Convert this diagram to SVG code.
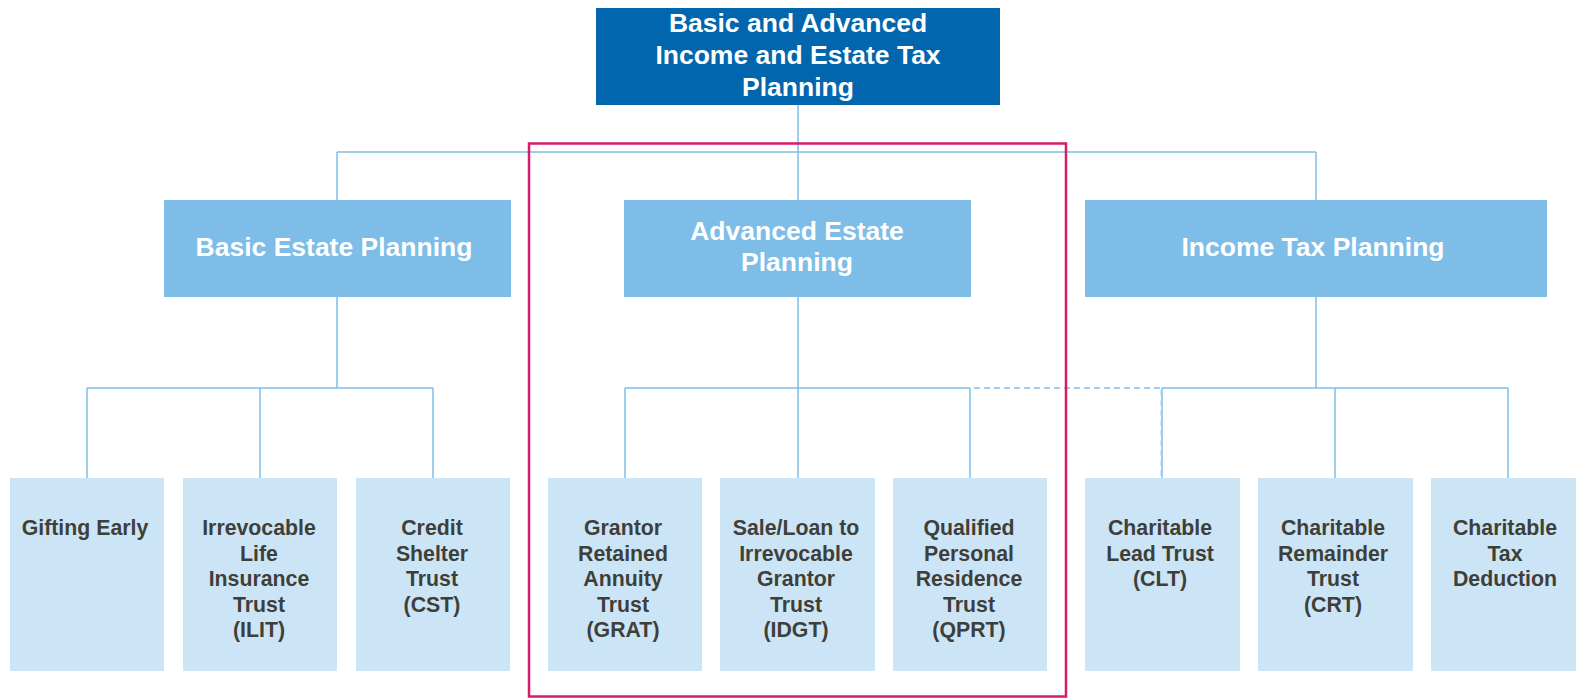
<svg xmlns="http://www.w3.org/2000/svg" width="1576" height="700" viewBox="0 0 1576 700">
<style>
.top{fill:#0166ad}
.mid{fill:#7dbde8}
.leaf{fill:#cce5f6}
.tw{font-family:"Liberation Sans",Arial,sans-serif;font-weight:bold;font-size:26.5px;fill:#ffffff;text-anchor:middle}
.tl{font-family:"Liberation Sans",Arial,sans-serif;font-weight:bold;font-size:21.3px;fill:#3f3f3a;text-anchor:middle}
.c{stroke:#7fbfe9;stroke-width:1.5;fill:none}
.d{stroke:#a3cdee;stroke-width:2;fill:none;stroke-dasharray:6 4}
</style>
<rect width="1576" height="700" fill="#ffffff"/>
<g id="connectors">
<path class="c" d="M798 105V478M337 152H1316M337 152V200M1316 152V200"/>
<path class="c" d="M337 297V388M87 388H433M87 388V478M260 388V478M433 388V478"/>
<path class="c" d="M625 388H970M625 388V478M970 388V478"/>
<path class="c" d="M1316 297V388M1162 388H1508M1162 388V478M1335 388V478M1508 388V478"/>
<path class="d" d="M804 388H1162M1161.5 390V478"/>
</g>
<g id="n-root"><rect class="top" x="596" y="8" width="404" height="97"/>
<text class="tw" x="798" y="32">Basic and Advanced</text>
<text class="tw" x="798" y="64">Income and Estate Tax</text>
<text class="tw" x="798" y="96">Planning</text></g>
<g id="n-basic"><rect class="mid" x="164" y="200" width="347" height="97"/>
<text class="tw" x="334" y="256">Basic Estate Planning</text></g>
<g id="n-advanced"><rect class="mid" x="624" y="200" width="347" height="97"/>
<text class="tw" x="797" y="239.5">Advanced Estate</text>
<text class="tw" x="797" y="271">Planning</text></g>
<g id="n-income"><rect class="mid" x="1085" y="200" width="462" height="97"/>
<text class="tw" x="1313" y="256">Income Tax Planning</text></g>
<g id="n-gift"><rect class="leaf" x="10" y="478" width="154" height="193"/>
<text class="tl" x="85" y="535">Gifting Early</text></g>
<g id="n-ilit"><rect class="leaf" x="183" y="478" width="154" height="193"/>
<text class="tl" x="259" y="535">Irrevocable</text>
<text class="tl" x="259" y="560.6">Life</text>
<text class="tl" x="259" y="586.2">Insurance</text>
<text class="tl" x="259" y="611.8">Trust</text>
<text class="tl" x="259" y="637.4">(ILIT)</text></g>
<g id="n-cst"><rect class="leaf" x="356" y="478" width="154" height="193"/>
<text class="tl" x="432" y="535">Credit</text>
<text class="tl" x="432" y="560.6">Shelter</text>
<text class="tl" x="432" y="586.2">Trust</text>
<text class="tl" x="432" y="611.8">(CST)</text></g>
<g id="n-grat"><rect class="leaf" x="548" y="478" width="154" height="193"/>
<text class="tl" x="623" y="535">Grantor</text>
<text class="tl" x="623" y="560.6">Retained</text>
<text class="tl" x="623" y="586.2">Annuity</text>
<text class="tl" x="623" y="611.8">Trust</text>
<text class="tl" x="623" y="637.4">(GRAT)</text></g>
<g id="n-idgt"><rect class="leaf" x="720" y="478" width="155" height="193"/>
<text class="tl" x="796" y="535">Sale/Loan to</text>
<text class="tl" x="796" y="560.6">Irrevocable</text>
<text class="tl" x="796" y="586.2">Grantor</text>
<text class="tl" x="796" y="611.8">Trust</text>
<text class="tl" x="796" y="637.4">(IDGT)</text></g>
<g id="n-qprt"><rect class="leaf" x="893" y="478" width="154" height="193"/>
<text class="tl" x="969" y="535">Qualified</text>
<text class="tl" x="969" y="560.6">Personal</text>
<text class="tl" x="969" y="586.2">Residence</text>
<text class="tl" x="969" y="611.8">Trust</text>
<text class="tl" x="969" y="637.4">(QPRT)</text></g>
<g id="n-clt"><rect class="leaf" x="1085" y="478" width="155" height="193"/>
<text class="tl" x="1160" y="535">Charitable</text>
<text class="tl" x="1160" y="560.6">Lead Trust</text>
<text class="tl" x="1160" y="586.2">(CLT)</text></g>
<g id="n-crt"><rect class="leaf" x="1258" y="478" width="155" height="193"/>
<text class="tl" x="1333" y="535">Charitable</text>
<text class="tl" x="1333" y="560.6">Remainder</text>
<text class="tl" x="1333" y="586.2">Trust</text>
<text class="tl" x="1333" y="611.8">(CRT)</text></g>
<g id="n-ctd"><rect class="leaf" x="1431" y="478" width="154" height="193"/>
<text class="tl" x="1505" y="535">Charitable</text>
<text class="tl" x="1505" y="560.6">Tax</text>
<text class="tl" x="1505" y="586.2">Deduction</text></g>
<g id="highlight"><rect x="529" y="143.5" width="537" height="553" fill="none" stroke="#d81b6c" stroke-width="2.5"/></g>
</svg>
